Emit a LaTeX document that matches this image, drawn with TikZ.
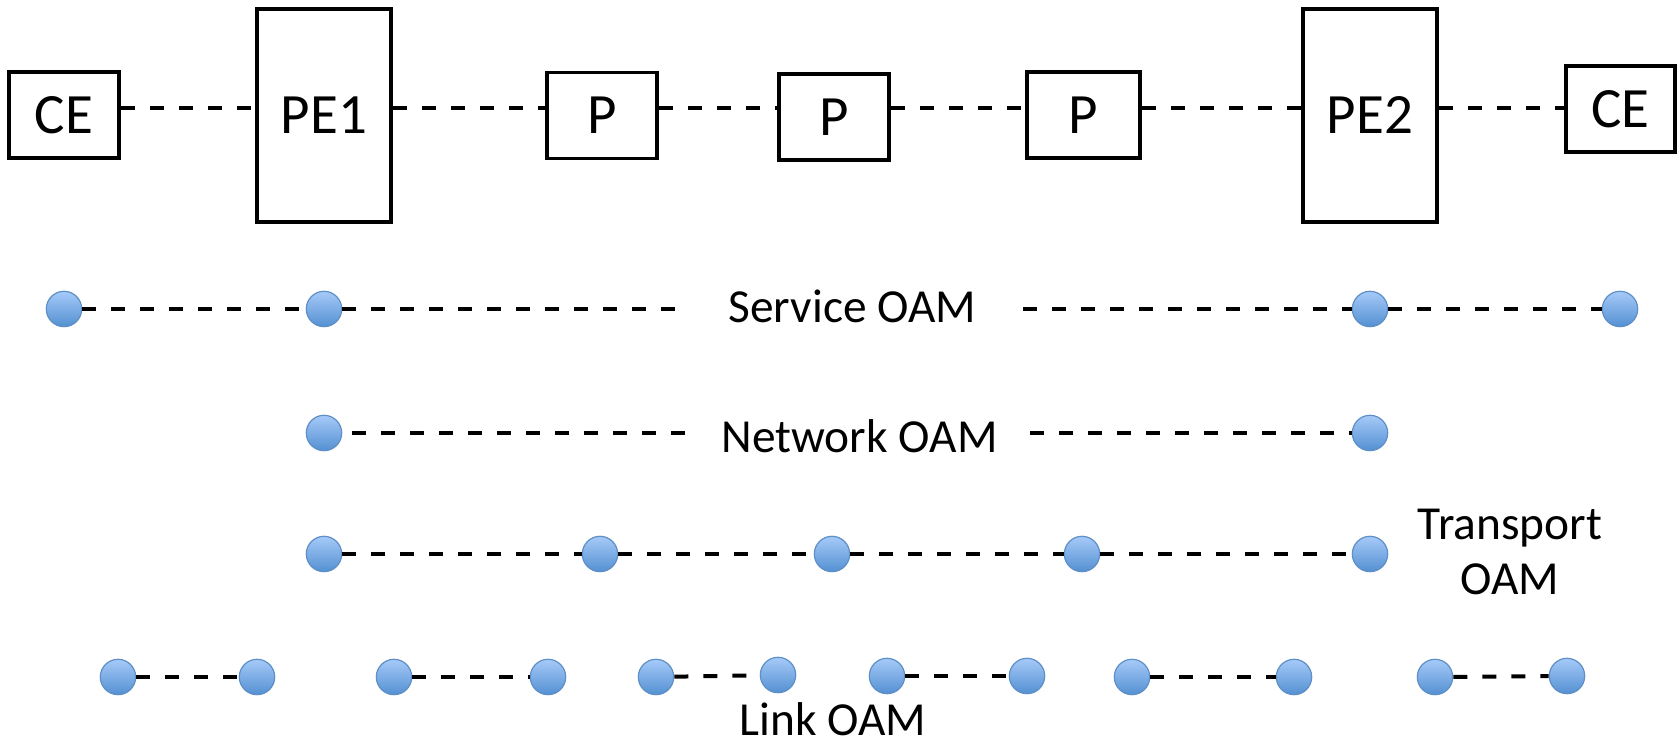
\documentclass[tikz,border=0pt]{standalone}
\usepackage{fontspec}
\setmainfont{Carlito}
\definecolor{circtop}{HTML}{A6CAF8}
\definecolor{circbot}{HTML}{5490D2}
\definecolor{circborder}{HTML}{5E8FC6}
\begin{document}
\begin{tikzpicture}[x=0.5pt,y=-0.5pt,
  box/.style={draw, line width=1.7pt, inner sep=0pt, font=\fontsize{28.5}{34}\selectfont},
  small/.style={box, minimum width=55pt, minimum height=43pt},
  tall/.style={box, minimum width=67pt, minimum height=106.5pt},
  oam/.style={circle, draw=circborder, line width=0.6pt, top color=circtop, bottom color=circbot, minimum size=17.7pt, inner sep=0pt},
  conn/.style={line width=2pt, dash pattern=on 7pt off 7.5pt},
  lbl/.style={font=\fontsize{23.7}{27.5}\selectfont, inner sep=0pt, align=center},
  gaplbl/.style={lbl, minimum width=170.5pt}
]
\useasboundingbox (0,0) rectangle (1677,747);
% top row devices
\node[small] (ce1) at (64,115) {CE};
\node[tall] (pe1) at (324,115.5) {PE1};
\node[small] (p1) at (602,115.5) {P};
\node[small] (p2) at (834,117) {P};
\node[small, minimum width=56.5pt] (p3) at (1083.5,115) {P};
\node[tall] (pe2) at (1370,115.5) {PE2};
\node[small, minimum width=54.5pt] (ce2) at (1620.5,109) {CE};
\coordinate (L) at (0,108);
\draw[conn] (ce1.east|-L) -- (pe1.west|-L);
\draw[conn] (pe1.east|-L) -- (p1.west|-L);
\draw[conn] (p1.east|-L) -- (p2.west|-L);
\draw[conn] (p2.east|-L) -- (p3.west|-L);
\draw[conn] (p3.east|-L) -- (pe2.west|-L);
\draw[conn] (pe2.east|-L) -- (ce2.west|-L);
% service OAM
\node[oam] (s1) at (64,309) {};
\node[oam] (s2) at (324,309) {};
\node[gaplbl] (stext) at (852.5,306) {Service OAM};
\node[oam] (s3) at (1370,309) {};
\node[oam] (s4) at (1620,309) {};
\draw[conn] (s1) -- (s2);
\draw[conn] (s2) -- (s2 -| stext.west);
\draw[conn] (s3 -| stext.east) -- (s3);
\draw[conn] (s3) -- (s4);
% network OAM
\node[oam] (n1) at (324,433) {};
\node[gaplbl] (ntext) at (859.5,436) {Network OAM};
\node[oam] (n2) at (1370,433) {};
\draw[conn] ([xshift=5pt]n1.east) -- (n1 -| ntext.west);
\draw[conn] (n2 -| ntext.east) -- (n2);
% transport OAM
\node[oam] (t1) at (324,554) {};
\node[oam] (t2) at (600,554) {};
\node[oam] (t3) at (832,554) {};
\node[oam] (t4) at (1082,554) {};
\node[oam] (t5) at (1370,554) {};
\node[lbl] (ttext) at (1510,552) {Transport\\OAM};
\draw[conn] (t1) -- (t2);
\draw[conn] (t2) -- (t3);
\draw[conn] (t3) -- (t4);
\draw[conn] (t4) -- (t5);
% link OAM
\node[oam] (l1) at (118,677) {};
\node[oam] (l2) at (257,677) {};
\node[oam] (l3) at (394,677) {};
\node[oam] (l4) at (548,677) {};
\node[oam] (l5) at (656,677) {};
\node[oam] (l6) at (778,675) {};
\node[oam] (l7) at (887,676) {};
\node[oam] (l8) at (1027,676) {};
\node[oam] (l9) at (1132,677) {};
\node[oam] (l10) at (1294,677) {};
\node[oam] (l11) at (1435,677) {};
\node[oam] (l12) at (1567,676) {};
\draw[conn] (l1) -- (l2);
\draw[conn] (l3) -- (l4);
\draw[conn] (l5) -- (l6);
\draw[conn] (l7) -- (l8);
\draw[conn] (l9) -- (l10);
\draw[conn] (l11) -- (l12);
\node[lbl] (ltext) at (833,719) {Link OAM};
\end{tikzpicture}
\end{document}
